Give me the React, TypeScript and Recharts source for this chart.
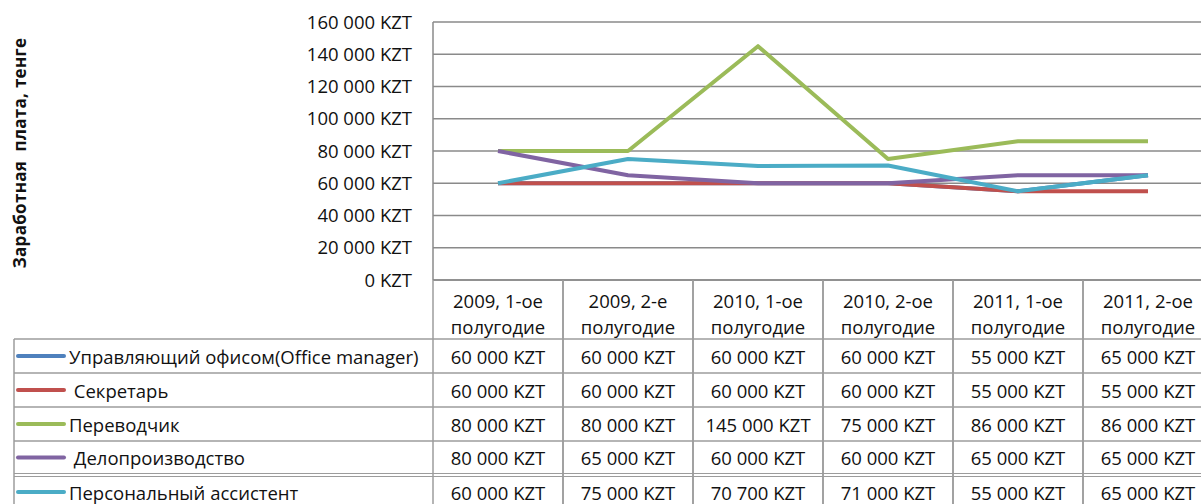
import React from 'react';
import { LineChart, Line, XAxis, YAxis, CartesianGrid } from 'recharts';

const categories = [
  '2009, 1-ое полугодие',
  '2009, 2-е полугодие',
  '2010, 1-ое полугодие',
  '2010, 2-ое полугодие',
  '2011, 1-ое полугодие',
  '2011, 2-ое полугодие',
];

const officeManager = [60000, 60000, 60000, 60000, 55000, 65000];
const secretary = [60000, 60000, 60000, 60000, 55000, 55000];
const translator = [80000, 80000, 145000, 75000, 86000, 86000];
const recordsMgmt = [80000, 65000, 60000, 60000, 65000, 65000];
const assistant = [60000, 75000, 70700, 71000, 55000, 65000];

const seriesKeys = ['officeManager', 'secretary', 'translator', 'recordsMgmt', 'assistant'];
const seriesNames = [
  'Управляющий офисом(Office manager)',
  ' Секретарь',
  'Переводчик',
  ' Делопроизводство',
  'Персональный ассистент',
];
const seriesValues = [officeManager, secretary, translator, recordsMgmt, assistant];
const seriesColors = ['#4F81BD', '#C0504D', '#9BBB59', '#8064A2', '#4BACC6'];

const yTicks = [0, 20000, 40000, 60000, 80000, 100000, 120000, 140000, 160000];
const yTitle = 'Заработная  плата, тенге';

const data = categories.map((c, i) => {
  const row: Record<string, any> = { category: c };
  seriesKeys.forEach((k, s) => {
    row[k] = seriesValues[s][i];
  });
  return row;
});

const fmt = (v: number) => {
  const s = String(Math.round(v)).replace(/\B(?=(\d{3})+(?!\d))/g, ' ');
  return `${s} KZT`;
};

// layout
const CHART_W = 1260;
const CHART_H = 504;
const PLOT_LEFT = 433;
const PLOT_RIGHT = 1213;
const PLOT_TOP = 22;
const PLOT_BOTTOM = 280;
const COL_HALF = (PLOT_RIGHT - PLOT_LEFT) / categories.length / 2;
const FONT = '"Open Sans", sans-serif';
const FS = 18.5;
const GRID = '#8a8a8a';
const TABLE_LINE = '#9c9c9c';
const HEADER_BOTTOM = 339;
const ROW_LINES = [373, 407, 441];
const DOUBLE_LINE = [473.5, 476.5];
const ROW_CENTERS = [356, 390, 424, 457.5, 492];
const LEGEND_LEFT = 14;

function TableTick(props: any) {
  const { x, index, payload } = props;
  const label: string = String(payload.value);
  const cut = label.lastIndexOf(' ');
  const l1 = label.slice(0, cut);
  const l2 = label.slice(cut + 1);
  const left = x - COL_HALF;
  const right = x + COL_HALF;
  return (
    <g>
      {index === 0 && (
        <g>
          <line x1={LEGEND_LEFT} x2={CHART_W} y1={HEADER_BOTTOM} y2={HEADER_BOTTOM} stroke={TABLE_LINE} strokeWidth={1.5} />
          {ROW_LINES.map((y) => (
            <line key={y} x1={LEGEND_LEFT} x2={CHART_W} y1={y} y2={y} stroke={TABLE_LINE} strokeWidth={1.5} />
          ))}
          {DOUBLE_LINE.map((y) => (
            <line key={y} x1={LEGEND_LEFT} x2={CHART_W} y1={y} y2={y} stroke={TABLE_LINE} strokeWidth={1.2} />
          ))}
          <line x1={LEGEND_LEFT} x2={LEGEND_LEFT} y1={HEADER_BOTTOM} y2={CHART_H} stroke={TABLE_LINE} strokeWidth={1.5} />
          {seriesNames.map((n, s) => (
            <g key={s}>
              <line x1={18} x2={64} y1={ROW_CENTERS[s]} y2={ROW_CENTERS[s]} stroke={seriesColors[s]} strokeWidth={4} strokeLinecap="round" />
              <text
                x={69}
                y={ROW_CENTERS[s]}
                dominantBaseline="central"
                fontFamily={FONT}
                fontSize={FS}
                fill="#111"
                style={{ whiteSpace: 'pre' }}
              >
                {n}
              </text>
            </g>
          ))}
        </g>
      )}
      <line x1={left} x2={left} y1={PLOT_BOTTOM} y2={CHART_H} stroke={TABLE_LINE} strokeWidth={1.5} />
      <line x1={right} x2={right} y1={PLOT_BOTTOM} y2={CHART_H} stroke={TABLE_LINE} strokeWidth={1.5} />
      <text x={x} y={300} textAnchor="middle" dominantBaseline="central" fontFamily={FONT} fontSize={FS} fill="#111">
        {l1}
      </text>
      <text x={x} y={326} textAnchor="middle" dominantBaseline="central" fontFamily={FONT} fontSize={FS} fill="#111">
        {l2}
      </text>
      {seriesValues.map((vals, s) => (
        <text
          key={s}
          x={x}
          y={ROW_CENTERS[s]}
          textAnchor="middle"
          dominantBaseline="central"
          fontFamily={FONT}
          fontSize={FS}
          fill="#111"
        >
          {fmt(vals[index])}
        </text>
      ))}
    </g>
  );
}

function YTitle(props: any) {
  const vb = props.viewBox || { x: 0, y: PLOT_TOP, height: PLOT_BOTTOM - PLOT_TOP };
  const cx = 19;
  const cy = vb.y + vb.height / 2 + 2;
  return (
    <text
      x={cx}
      y={cy}
      transform={`rotate(-90, ${cx}, ${cy})`}
      textAnchor="middle"
      dominantBaseline="central"
      fontFamily={FONT}
      fontWeight="bold"
      fontSize={17}
      letterSpacing={0.3}
      fill="#111"
      style={{ whiteSpace: 'pre' }}
    >
      {yTitle}
    </text>
  );
}

export default function App() {
  return (
    <div
      style={{
        position: 'absolute',
        left: 0,
        top: 0,
        width: 1201,
        height: 504,
        overflow: 'hidden',
        background: '#fff',
      }}
    >
      <LineChart
        width={CHART_W}
        height={CHART_H}
        data={data}
        margin={{ top: PLOT_TOP, right: CHART_W - PLOT_RIGHT, bottom: 0, left: 0 }}
      >
        <CartesianGrid vertical={false} stroke={GRID} strokeWidth={1.5} />
        <XAxis
          dataKey="category"
          interval={0}
          height={CHART_H - PLOT_BOTTOM}
          padding={{ left: COL_HALF, right: COL_HALF }}
          axisLine={{ stroke: GRID, strokeWidth: 1.5 }}
          tickLine={false}
          tick={<TableTick />}
        />
        <YAxis
          width={PLOT_LEFT}
          domain={[0, 160000]}
          ticks={yTicks}
          interval={0}
          tickFormatter={fmt}
          tickSize={0}
          tickMargin={21}
          axisLine={{ stroke: GRID, strokeWidth: 1.5 }}
          tickLine={false}
          tick={{ fontFamily: FONT, fontSize: FS, fill: '#111' }}
          label={<YTitle />}
        />
        {seriesKeys.map((k, s) => (
          <Line
            key={k}
            dataKey={k}
            name={seriesNames[s]}
            stroke={seriesColors[s]}
            strokeWidth={4}
            dot={false}
            activeDot={false}
            strokeLinejoin="round"
            isAnimationActive={false}
            type="linear"
          />
        ))}
      </LineChart>
    </div>
  );
}
